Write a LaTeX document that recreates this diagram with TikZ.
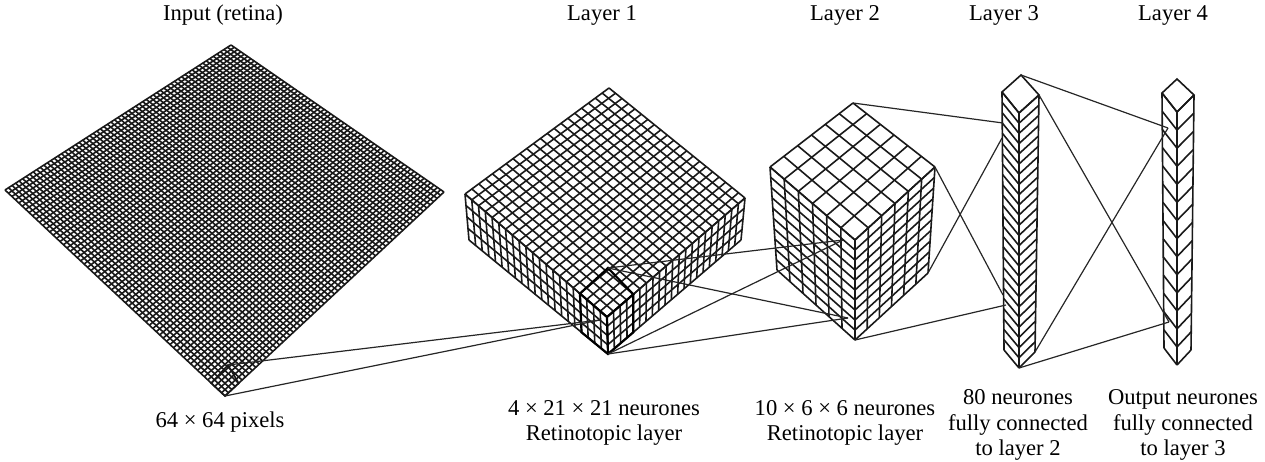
\documentclass[tikz,border=0pt]{standalone}
\usepackage{fontspec}
\setmainfont{Liberation Serif}
\usetikzlibrary{calc}

\tikzset{
  gridline/.style={line width=0.8pt, black!90},
  boldline/.style={line width=1.1pt, black},
  link/.style={line width=0.6pt, black!85},
  caption/.style={align=center, font=\fontsize{11.3}{12.6}\selectfont, inner sep=0pt}
}

% quad a-b-c-d, #5 cells along a-b, #6 cells along b-c
\newcommand{\gridface}[6]{
  \foreach \k in {0,...,#5}
    \draw[gridline] ($(#1)!\k/#5!(#2)$) -- ($(#4)!\k/#5!(#3)$);
  \foreach \k in {0,...,#6}
    \draw[gridline] ($(#1)!\k/#6!(#4)$) -- ($(#2)!\k/#6!(#3)$);
}

\begin{document}
\begin{tikzpicture}[x=0.5pt, y=-0.5pt]

\useasboundingbox (0, 0) rectangle (1265, 461);

% input
\coordinate (intop) at (231, 45);
\coordinate (inleft) at (5, 190);
\coordinate (inright) at (444, 192);
\coordinate (inbottom) at (225, 396);
\coordinate (insubtop) at (228, 365);
\gridface{inleft}{intop}{inright}{inbottom}{64}{64}
\draw[gridline] (inbottom) -- ($(inbottom)!4/64!(inleft)$) -- (insubtop) -- ($(inbottom)!4/64!(inright)$) -- cycle;

% layer 1
\coordinate (onetop) at (609, 88);
\coordinate (oneleft) at (465, 194);
\coordinate (oneright) at (745, 198);
\coordinate (onefront) at (607, 317);
\coordinate (onelow) at (469, 240);
\coordinate (onelowr) at (741, 240);
\coordinate (onebottom) at (608, 354);
\coordinate (onesubtop) at (608, 268);
\coordinate (onein) at (600, 320);
\gridface{oneleft}{onetop}{oneright}{onefront}{21}{21}
\gridface{oneleft}{onefront}{onebottom}{onelow}{21}{4}
\gridface{onefront}{oneright}{onelowr}{onebottom}{21}{4}
\draw[boldline] (onefront) -- ($(onefront)!4/21!(oneleft)$) -- (onesubtop) -- ($(onefront)!4/21!(oneright)$) -- cycle;
\draw[boldline] ($(onefront)!4/21!(oneleft)$) -- ($(onebottom)!4/21!(onelow)$) -- (onebottom) -- ($(onebottom)!4/21!(onelowr)$) -- ($(onefront)!4/21!(oneright)$);
\draw[boldline] (onefront) -- (onebottom);

% layer 2
\coordinate (twotop) at (853, 103);
\coordinate (twoleft) at (770, 167);
\coordinate (tworight) at (935, 167);
\coordinate (twofront) at (855, 240);
\coordinate (twolow) at (777, 270);
\coordinate (twolowr) at (928, 273);
\coordinate (twobottom) at (855, 340);
\coordinate (twoinup) at (843, 240);
\coordinate (twoindown) at (848, 318);
\gridface{twoleft}{twotop}{tworight}{twofront}{6}{6}
\gridface{twoleft}{twofront}{twobottom}{twolow}{6}{10}
\gridface{twofront}{tworight}{twolowr}{twobottom}{6}{10}

% layer 3
\coordinate (threetop) at (1021, 75);
\coordinate (threeleft) at (1002, 92);
\coordinate (threeright) at (1039, 95);
\coordinate (threefront) at (1019, 113);
\coordinate (threelow) at (1004, 350);
\coordinate (threelowr) at (1035, 352);
\coordinate (threebottom) at (1019, 368);
\coordinate (threeinup) at (1003, 123);
\coordinate (threeinup2) at (1002, 138);
\coordinate (threeindown) at (1003, 295);
\coordinate (threeindown2) at (1006, 305);
\draw[gridline] (threeleft) -- (threetop) -- (threeright) -- (threefront) -- cycle;
\gridface{threeleft}{threefront}{threebottom}{threelow}{1}{25}
\gridface{threefront}{threeright}{threelowr}{threebottom}{1}{25}

% layer 4
\coordinate (fourtop) at (1177, 79);
\coordinate (fourleft) at (1162, 93);
\coordinate (fourright) at (1194, 95);
\coordinate (fourfront) at (1177, 112);
\coordinate (fourlow) at (1164, 348);
\coordinate (fourlowr) at (1191, 350);
\coordinate (fourbottom) at (1177, 365);
\coordinate (fourinup) at (1168, 128);
\coordinate (fourindown) at (1169, 322);
\draw[gridline] (fourleft) -- (fourtop) -- (fourright) -- (fourfront) -- cycle;
\gridface{fourleft}{fourfront}{fourbottom}{fourlow}{1}{14}
\gridface{fourfront}{fourright}{fourlowr}{fourbottom}{1}{14}

% connections
\draw[link] (insubtop) -- (onein);
\draw[link] (inbottom) -- (onein);
\draw[link] (onesubtop) -- (twoinup);
\draw[link] (onesubtop) -- (twoindown);
\draw[link] (onebottom) -- (twoinup);
\draw[link] (onebottom) -- (twoindown);
\draw[link] (twotop) -- (threeinup);
\draw[link] (tworight) -- (threeindown);
\draw[link] (twolowr) -- (threeinup2);
\draw[link] (twobottom) -- (threeindown2);
\draw[link] (threetop) -- (fourinup);
\draw[link] (threeright) -- (fourindown);
\draw[link] (threelowr) -- (fourinup);
\draw[link] (threebottom) -- (fourindown);

% labels
\node[caption] (titlein) at (223, 15) {Input (retina)};
\node[caption] (titleone) at (602, 15) {Layer 1};
\node[caption] (titletwo) at (845, 15) {Layer 2};
\node[caption] (titlethree) at (1004, 15) {Layer 3};
\node[caption] (titlefour) at (1173, 15) {Layer 4};
\node[caption] (capin) at (220, 422) {64 × 64 pixels};
\node[caption] (capone) at (604, 423) {4 × 21 × 21 neurones\\Retinotopic layer};
\node[caption] (captwo) at (845, 423) {10 × 6 × 6 neurones\\Retinotopic layer};
\node[caption] (capthree) at (1018, 425) {80 neurones\\fully connected\\to layer 2};
\node[caption] (capfour) at (1183, 425) {Output neurones\\fully connected\\to layer 3};

\end{tikzpicture}
\end{document}
